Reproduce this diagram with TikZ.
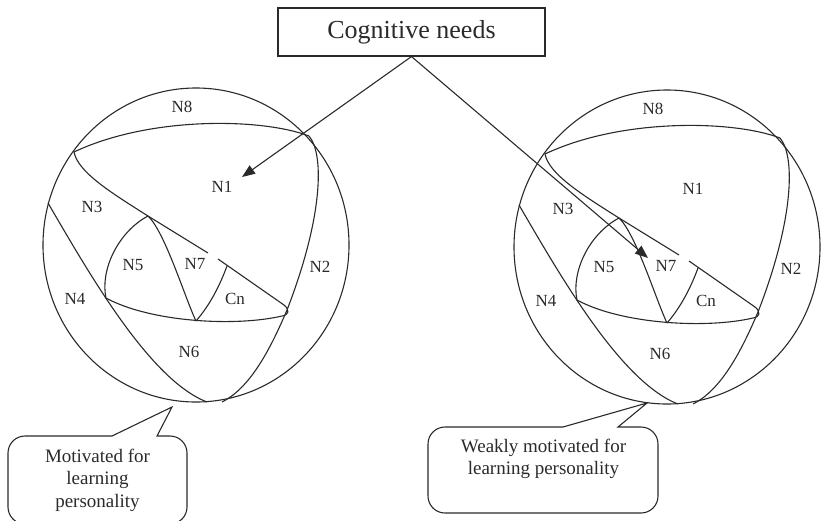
\documentclass[tikz,border=0pt]{standalone}
\usepackage{fontspec}
\setmainfont{Liberation Serif}
\usetikzlibrary{arrows.meta}
\definecolor{ink}{HTML}{2A2A2A}
\tikzset{
  ln/.style={draw=ink,line width=1.1pt},
  lab/.style={text=ink,font=\fontsize{17}{20}\selectfont,inner sep=0pt},
  calltext/.style={text=ink,font=\fontsize{19}{22.5}\selectfont,align=center,inner sep=0pt},
  arr/.style={ln,-{Triangle[length=13pt,width=10pt]}}
}
\newcommand\venn[2]{%
\begin{scope}[shift={#2}]
  \draw[ln] (196,245) ellipse [x radius=153pt, y radius=157pt];
  % N1 top edge and right edge down to the bottom of the circle
  \draw[ln] (74,152) .. controls (150,116) and (262,118) .. (309,136)
     .. controls (325,155) and (322,220) .. (287,310)
     .. controls (270,350) and (250,388) .. (222,402);
  % N1 left edge (with gap)
  \draw[ln] (74,152) .. controls (78,172) and (110,192) .. (148,216) -- (208,253);
  \draw[ln] (218,259) -- (284,305) .. controls (290,310) and (289,315) .. (282,316)
     .. controls (235,327) and (150,322) .. (106,298)
     .. controls (100,270) and (118,232) .. (148,216);
  % N5 / N7 boundary
  \draw[ln] (148,216) .. controls (165,232) and (185,298) .. (196,321);
  % Cn
  \draw[ln] (196,321) .. controls (210,305) and (220,285) .. (227,266);
  % N3/N4 and N4/N6 line
  \draw[ln] (48,203) .. controls (90,275) and (150,380) .. (207,402);
  \node[lab] (#1n8) at (182,107) {N8};
  \node[lab] (#1n1) at (222,187) {N1};
  \node[lab] (#1n3) at (92,207) {N3};
  \node[lab] (#1n2) at (320,267) {N2};
  \node[lab] (#1n5) at (133,265) {N5};
  \node[lab] (#1n7) at (195,264) {N7};
  \node[lab] (#1n4) at (75,299) {N4};
  \node[lab] (#1cn) at (235,299) {Cn};
  \node[lab] (#1n6) at (189,352) {N6};
\end{scope}}
\begin{document}
\begin{tikzpicture}[x=1pt,y=-1pt]
  \useasboundingbox (0,0) rectangle (821,520);
  \clip (0,0) rectangle (821,520);
  % top box
  \node[ln,minimum width=267pt,minimum height=48pt,inner sep=0pt,
        text=ink,font=\fontsize{26}{30}\selectfont] (cog) at (411.5,32) {Cognitive needs};
  \venn{L}{(0,0)}
  \venn{R}{(471,2)}
  \coordinate (ltip) at (242,177);
  \coordinate (rtip) at (648,258);
  \draw[arr] (cog.south) -- (ltip);
  \draw[arr] (cog.south) -- (rtip);
  % left callout
  \draw[ln] (112,436) -- (172,407) -- (157,436) [rounded corners=17pt] -- (187,436)
     -- (187,524) -- (8,524) -- (8,436) -- (112,436);
  \node[calltext] (lcall) at (97.5,480) {Motivated for\\learning\\personality};
  % right callout
  \draw[ln] (563,427) -- (647,403) -- (618,427) [rounded corners=17pt] -- (658,427)
     -- (658,513) -- (428,513) -- (428,427) -- (563,427);
  \node[calltext] (rcall) at (543.5,459) {Weakly motivated for\\learning personality};
\end{tikzpicture}
\end{document}
